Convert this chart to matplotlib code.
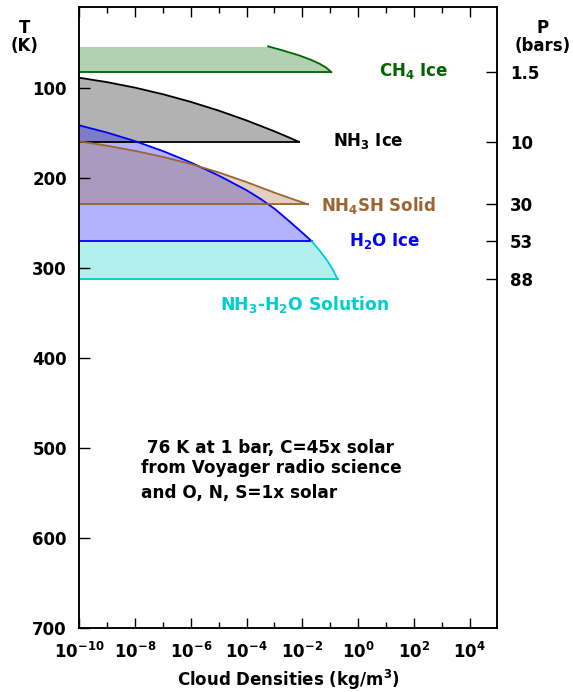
import matplotlib
matplotlib.use("Agg")
import matplotlib.pyplot as plt
from matplotlib.ticker import NullFormatter

plt.rcParams['font.family'] = ['DejaVu Sans']
plt.rcParams['font.weight'] = 'bold'
plt.rcParams['mathtext.default'] = 'bf'

# cloud layers: density (kg/m^3) vs temperature (K)
ch4_T = [54.0, 58.6, 64.2, 68.9, 73.4, 77.6, 82.7]
ch4_rho = [5.9e-4, 2.0e-3, 7.9e-3, 2.0e-2, 4.2e-2, 7.1e-2, 1.1e-1]

nh3_T = [88.9, 93.8, 99.9, 107.2, 115.7, 125.4, 136.3, 148.4, 155.0, 160.0]
nh3_rho = [1e-10, 1e-9, 1e-8, 1e-7, 1e-6, 1e-5, 1e-4, 1e-3, 3.2e-3, 7.4e-3]

nh4sh_T = [159.6, 164.4, 170.1, 176.8, 184.7, 194.0, 204.8, 216.5, 227.4, 229.5]
nh4sh_rho = [1e-10, 1e-9, 1e-8, 1e-7, 1e-6, 1e-5, 1e-4, 1e-3, 1e-2, 1.6e-2]

h2o_T = [141.8, 149.8, 159.3, 170.3, 183.0, 197.5, 213.8, 223.5, 234.3, 247.5, 261.0, 270.6]
h2o_rho = [1e-10, 1e-9, 1e-8, 1e-7, 1e-6, 1e-5, 1e-4, 3.2e-4, 1e-3, 3.2e-3, 1e-2, 2.2e-2]

sol_T = [270.6, 281.2, 293.2, 302.3, 312.8]
sol_rho = [2.2e-2, 4.27e-2, 8.3e-2, 1.26e-1, 1.86e-1]

# pressure levels on the right axis
p_T = [82.7, 160.0, 229.5, 270.6, 312.8]
p_labels = ['1.5', '10', '30', '53', '88']

x_major = [1e-10, 1e-8, 1e-6, 1e-4, 1e-2, 1e0, 1e2, 1e4]
x_major_labels = ['$10^{-10}$', '$10^{-8}$', '$10^{-6}$', '$10^{-4}$',
                  '$10^{-2}$', '$10^{0}$', '$10^{2}$', '$10^{4}$']
x_minor = [1e-9, 1e-7, 1e-5, 1e-3, 1e-1, 1e1, 1e3]
y_ticks = [100, 200, 300, 400, 500, 600, 700]

xmin = 1e-10

fig = plt.figure(figsize=(5.73, 6.92), dpi=100)
ax = fig.add_axes([0.1384, 0.0925, 0.7298, 0.8978])

layers = [
    (ch4_T, ch4_rho, '#006400'),
    (nh3_T, nh3_rho, 'black'),
    (h2o_T, h2o_rho, 'blue'),
    (nh4sh_T, nh4sh_rho, '#9c6430'),
    (sol_T, sol_rho, '#00cdcd'),
]

for T, rho, col in layers:
    ax.fill_betweenx(T, xmin, rho, color=col, alpha=0.3, linewidth=0)
for T, rho, col in layers:
    ax.plot(rho, T, color=col, lw=1.3)
    ax.plot([xmin, rho[-1]], [T[-1], T[-1]], color=col, lw=1.3)

# layer labels
ax.text(1e2, 81.9, 'CH$_4$ Ice', color='#006400', fontsize=12, ha='center', va='center')
ax.text(2.4e0, 159.6, 'NH$_3$ Ice', color='black', fontsize=12, ha='center', va='center')
ax.text(5.4e0, 230.6, 'NH$_4$SH Solid', color='#9c6430', fontsize=12, ha='center', va='center')
ax.text(8.9e0, 270.6, 'H$_2$O Ice', color='blue', fontsize=12, ha='center', va='center')
ax.text(1.2e-2, 340.5, 'NH$_3$-H$_2$O Solution', color='#00cdcd', fontsize=12.3,
        ha='center', va='center')

ax.text(0.1475, 0.2897, ' 76 K at 1 bar, C=45x solar', transform=ax.transAxes,
        fontsize=12.2, ha='left', va='center')
ax.text(0.1475, 0.2575, 'from Voyager radio science', transform=ax.transAxes,
        fontsize=12.2, ha='left', va='center')
ax.text(0.1475, 0.2173, 'and O, N, S=1x solar', transform=ax.transAxes,
        fontsize=12.2, ha='left', va='center')

ax.set_xscale('log')
ax.set_xlim(1e-10, 1e5)
ax.set_ylim(700, 10)
ax.set_xticks(x_major)
ax.set_xticklabels(x_major_labels)
ax.set_xticks(x_minor, minor=True)
ax.xaxis.set_minor_formatter(NullFormatter())
ax.set_yticks(y_ticks)
ax.set_yticklabels([str(v) for v in y_ticks])
ax.tick_params(axis='x', which='major', direction='in', length=7, width=1,
               top=True, labelsize=12, pad=10)
ax.tick_params(axis='x', which='minor', direction='in', length=4, width=1, top=True)
ax.tick_params(axis='y', which='major', direction='in', length=8, width=1,
               right=False, labelsize=12, pad=9)
ax.set_xlabel('Cloud Densities (kg/m$^3$)', fontsize=12, fontweight='bold', labelpad=4.5)
for sp in ax.spines.values():
    sp.set_linewidth(1.1)

ax2 = ax.twinx()
ax2.set_ylim(700, 10)
ax2.set_yticks(p_T)
ax2.set_yticklabels(p_labels)
ax2.tick_params(axis='y', direction='in', length=8, width=1, labelsize=12, pad=9)
for sp in ax2.spines.values():
    sp.set_linewidth(1.1)

fig.text(25 / 573, 1 - 28 / 692, 'T', fontsize=12, ha='center', va='center')
fig.text(25 / 573, 1 - 46 / 692, '(K)', fontsize=12, ha='center', va='center')
fig.text(543 / 573, 1 - 28 / 692, 'P', fontsize=12, ha='center', va='center')
fig.text(543 / 573, 1 - 46 / 692, '(bars)', fontsize=12, ha='center', va='center')

fig.savefig('out.png', dpi=100)
